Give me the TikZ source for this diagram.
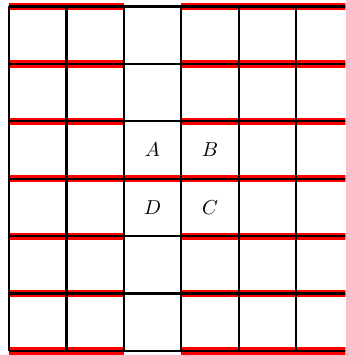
\documentclass[tikz,border=0pt]{standalone}
\usepackage{tikz}
\begin{document}
\begin{tikzpicture}[x=1cm,y=1cm,
  redline/.style={red, line width=3.6pt},
  gridline/.style={black, line width=1.1pt}]
\clip (-0.157,-0.07) rectangle (5.86,6.113);
% red bands under the horizontal lines
\foreach \j in {0,...,6}{
  \draw[redline] (0,\j) -- (2,\j);
  \draw[redline] (3,\j) -- (7,\j);
}
\draw[redline] (2,3) -- (3,3);
% the grid
\draw[gridline] (0,0) grid (7,6);
\node (A) at (2.5,3.5) {$A$};
\node (B) at (3.5,3.5) {$B$};
\node (D) at (2.5,2.5) {$D$};
\node (C) at (3.5,2.5) {$C$};
\end{tikzpicture}
\end{document}
